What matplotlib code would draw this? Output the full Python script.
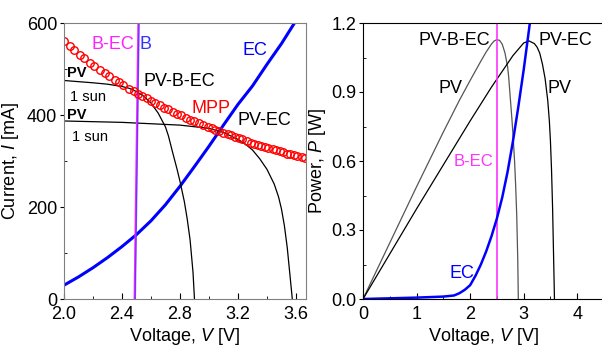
import matplotlib
matplotlib.use("Agg")
import matplotlib.pyplot as plt
import numpy as np

plt.rcParams['font.family'] = ['Liberation Sans', 'DejaVu Sans']
plt.rcParams['mathtext.fontset'] = 'custom'
plt.rcParams['mathtext.rm'] = 'Liberation Sans'
plt.rcParams['mathtext.it'] = 'Liberation Sans:italic'

# PV module I-V curves (mA) when driving the battery + electrolyser and the electrolyser only
pv_bec_v = [0.0, 1.0, 1.5, 1.8, 2.0, 2.2, 2.3, 2.4, 2.45, 2.5, 2.55, 2.6, 2.65, 2.7, 2.72,
            2.75, 2.78, 2.8, 2.83, 2.85, 2.87, 2.89, 2.9]
pv_bec_i = [492, 488, 484, 480, 475, 470, 467, 462, 458, 451, 441, 426, 404, 374, 355,
            318, 282, 256, 212, 174, 128, 58, 0]

pv_ec_v = [0.0, 1.0, 2.0, 2.4, 2.8, 3.0, 3.1, 3.2, 3.25, 3.3, 3.35, 3.4, 3.45, 3.48, 3.5,
           3.52, 3.54, 3.56, 3.575]
pv_ec_i = [395, 392, 387, 384, 378, 371, 362, 347, 337, 324, 305, 282, 250, 222, 196,
           160, 112, 48, 0]

# electrolyser load curve
ec_v = [0.0, 0.5, 1.0, 1.5, 1.7, 1.8, 1.9, 2.0, 2.1, 2.2, 2.3, 2.4, 2.5, 2.6, 2.7, 2.8,
        2.9, 3.0, 3.1, 3.2, 3.3, 3.4, 3.5, 3.6]
ec_i = [0, 6, 6, 7, 9, 14, 21, 30, 48, 68, 90, 114, 140, 170, 205, 245,
        288, 332, 378, 423, 463, 510, 555, 605]

# battery clamps the voltage
bec_v = [2.487, 2.513]
bec_i = [0, 600]

# maximum power points
mpp_v = [2.00, 2.04, 2.07, 2.11, 2.14, 2.18, 2.21, 2.25, 2.28, 2.31, 2.35, 2.38, 2.41, 2.45,
         2.48, 2.51, 2.54, 2.57, 2.60, 2.63, 2.66, 2.69, 2.72, 2.75, 2.78, 2.81, 2.84, 2.87,
         2.90, 2.93, 2.96, 2.99, 3.02, 3.04, 3.07, 3.10, 3.13, 3.15, 3.18, 3.21, 3.23, 3.26,
         3.29, 3.31, 3.34, 3.36, 3.39, 3.41, 3.44, 3.46, 3.49, 3.51, 3.54, 3.56, 3.59, 3.61,
         3.64, 3.66]
mpp_i = [560, 549, 541, 531, 523, 514, 507, 498, 491, 485, 477, 471, 465, 457,
         452, 446, 441, 436, 431, 426, 421, 416, 412, 407, 403, 399, 394, 390,
         386, 382, 378, 375, 371, 368, 365, 361, 358, 356, 352, 349, 347, 344,
         340, 338, 335, 333, 330, 328, 326, 324, 321, 319, 316, 315, 312, 310,
         308, 306]

fig = plt.figure(figsize=(6.02, 3.47), dpi=100)
ax1 = fig.add_axes([64 / 602, 48 / 347, 241.5 / 602, 276 / 347])
ax2 = fig.add_axes([363 / 602, 48 / 347, 241 / 602, 276 / 347])

# ---- current vs voltage ----
ax1.plot(ec_v, ec_i, color='#0000ff', lw=2.2)
ax1.plot(pv_bec_v, pv_bec_i, color='black', lw=0.9)
ax1.plot(pv_ec_v, pv_ec_i, color='black', lw=0.9)
ax1.plot(bec_v, bec_i, color='#ff22ff', lw=1.5)
ax1.plot(np.array(bec_v) + 0.005, bec_i, color='#3333ff', lw=1.0, alpha=0.7)
ax1.plot(mpp_v, mpp_i, 'o', mfc='none', mec='#ff0000', ms=5.4, mew=1.0)

ax1.set_xlim(2.0, 3.666)
ax1.set_ylim(0, 600)
ax1.set_xticks([2.0, 2.4, 2.8, 3.2, 3.6])
ax1.set_xticks(np.arange(2.0, 3.7, 0.2), minor=True)
ax1.set_yticks([0, 200, 400, 600])
ax1.set_yticks([100, 300, 500], minor=True)
ax1.set_xticklabels(['2.0', '2.4', '2.8', '3.2', '3.6'])
ax1.set_xlabel(r'Voltage, $\mathit{V}$ [V]', fontsize=13, labelpad=2)
ax1.set_ylabel(r'Current, $\mathit{I}$ [mA]', fontsize=13, labelpad=4)
for s in ax1.spines.values():
    s.set_color('#808080')

ax1.text(2.483, 554, 'B-EC', color='#ff22ff', fontsize=13, ha='right', va='center')
ax1.text(2.524, 554, 'B', color='#3333ff', fontsize=13, ha='left', va='center')
ax1.text(3.234, 541, 'EC', color='#0000ff', fontsize=13, ha='left', va='center')
ax1.text(2.545, 472, 'PV-B-EC', color='black', fontsize=13, ha='left', va='center')
ax1.text(2.883, 415, 'MPP', color='#ff0000', fontsize=13, ha='left', va='center')
ax1.text(3.20, 387, 'PV-EC', color='black', fontsize=13, ha='left', va='center')
ax1.text(2.02, 491, 'PV', fontsize=10.5, fontweight='bold', ha='left', va='center')
ax1.text(2.04, 439, '1 sun', fontsize=10.5, ha='left', va='center')
ax1.text(2.02, 400, 'PV', fontsize=10.5, fontweight='bold', ha='left', va='center')
ax1.text(2.055, 352, '1 sun', fontsize=10.5, ha='left', va='center')

# ---- power vs voltage ----
p_bec = np.array(pv_bec_v) * np.array(pv_bec_i) / 1000
p_ec_pv = np.array(pv_ec_v) * np.array(pv_ec_i) / 1000
p_ec = np.array(ec_v) * np.array(ec_i) / 1000

ax2.plot(pv_bec_v, p_bec, color='#555555', lw=0.9)
ax2.plot(pv_ec_v, p_ec_pv, color='black', lw=0.9)
ax2.plot([2.5, 2.5], [0, 1.2], color='#ff33ff', lw=1.2)
ax2.plot(ec_v, p_ec, color='#0000ff', lw=1.8)

ax2.set_xlim(0, 4.5)
ax2.set_ylim(0, 1.2)
ax2.set_xticks([0, 1, 2, 3, 4])
ax2.set_xticks([0.5, 1.5, 2.5, 3.5], minor=True)
ax2.set_yticks([0.0, 0.3, 0.6, 0.9, 1.2])
ax2.set_yticks([0.15, 0.45, 0.75, 1.05], minor=True)
ax2.set_yticklabels(['0.0', '0.3', '0.6', '0.9', '1.2'])
ax2.set_xlabel(r'Voltage, $\mathit{V}$ [V]', fontsize=13, labelpad=2)
ax2.set_ylabel(r'Power, $\mathit{P}$ [W]', fontsize=13, labelpad=2)

ax2.text(2.37, 1.126, 'PV-B-EC', fontsize=13, ha='right', va='center')
ax2.text(3.28, 1.126, 'PV-EC', fontsize=13, ha='left', va='center')
ax2.text(1.64, 0.917, 'PV', fontsize=13, ha='center', va='center')
ax2.text(3.66, 0.917, 'PV', fontsize=13, ha='center', va='center')
ax2.text(2.07, 0.596, 'B-EC', color='#ff33ff', fontsize=12, ha='center', va='center')
ax2.text(1.85, 0.113, 'EC', color='#0000ff', fontsize=13, ha='center', va='center')

for ax in (ax1, ax2):
    ax.tick_params(axis='both', labelsize=13, pad=2)
    ax.tick_params(axis='x', which='major', direction='in', length=4, pad=5)
    ax.tick_params(axis='x', which='minor', direction='in', length=2.5)
    ax.tick_params(axis='y', which='major', direction='out', length=3)
    ax.tick_params(axis='y', which='minor', direction='in', length=2.5)

fig.savefig('out.png', dpi=100)
